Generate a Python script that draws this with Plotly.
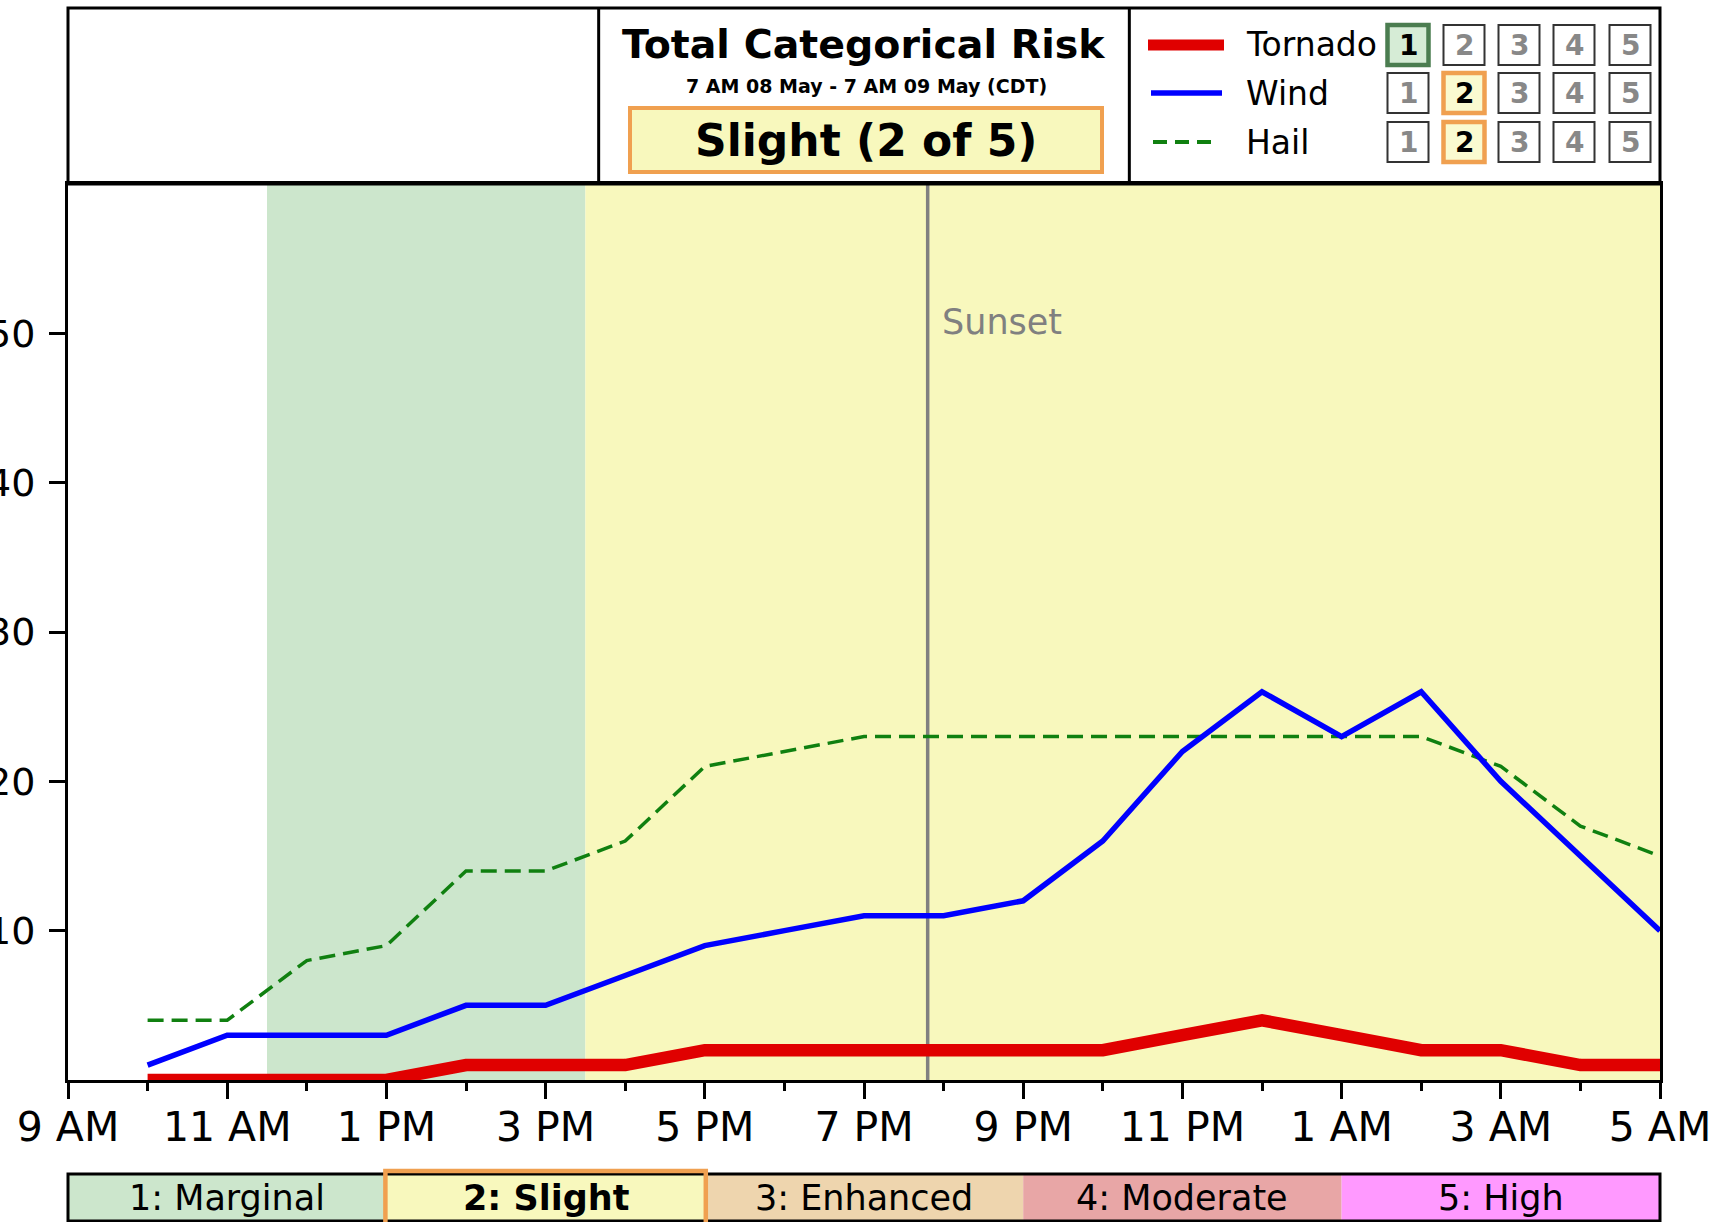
import plotly.graph_objects as go

# ---------------- data ----------------
times = [
    "2024-05-08 10:00", "2024-05-08 11:00", "2024-05-08 12:00", "2024-05-08 13:00",
    "2024-05-08 14:00", "2024-05-08 15:00", "2024-05-08 16:00", "2024-05-08 17:00",
    "2024-05-08 18:00", "2024-05-08 19:00", "2024-05-08 20:00", "2024-05-08 21:00",
    "2024-05-08 22:00", "2024-05-08 23:00", "2024-05-09 00:00", "2024-05-09 01:00",
    "2024-05-09 02:00", "2024-05-09 03:00", "2024-05-09 04:00", "2024-05-09 05:00",
]
tornado = [0, 0, 0, 0, 1, 1, 1, 2, 2, 2, 2, 2, 2, 3, 4, 3, 2, 2, 1, 1]
wind = [1, 3, 3, 3, 5, 5, 7, 9, 10, 11, 11, 12, 16, 22, 26, 23, 26, 20, 15, 10]
hail = [4, 4, 8, 9, 14, 14, 16, 21, 22, 23, 23, 23, 23, 23, 23, 23, 23, 21, 17, 15]

tick_times = [
    "2024-05-08 09:00", "2024-05-08 11:00", "2024-05-08 13:00", "2024-05-08 15:00",
    "2024-05-08 17:00", "2024-05-08 19:00", "2024-05-08 21:00", "2024-05-08 23:00",
    "2024-05-09 01:00", "2024-05-09 03:00", "2024-05-09 05:00",
]
tick_labels = ["9 AM", "11 AM", "1 PM", "3 PM", "5 PM", "7 PM", "9 PM", "11 PM",
               "1 AM", "3 AM", "5 AM"]
y_ticks = [10, 20, 30, 40, 50]

x_start, x_end = "2024-05-08 09:00", "2024-05-09 05:00"
marginal_span = ["2024-05-08 11:30", "2024-05-08 15:30"]
slight_span = ["2024-05-08 15:30", "2024-05-09 05:00"]
sunset_time = "2024-05-08 19:48"

categories = ["1: Marginal", "2: Slight", "3: Enhanced", "4: Moderate", "5: High"]
cat_colors = ["#cce6cc", "#f8f8bd", "#eed5ae", "#e8a6a6", "#ff99ff"]
active_category = 2

hazards = ["Tornado", "Wind", "Hail"]
hazard_level = [1, 2, 2]
hazard_colors = ["#e00000", "#0000ff", "#108010"]

# ---------------- layout geometry (pixels) ----------------
W, H = 1714, 1222
L, R, T, B = 68, 1660, 184, 1080
FONT = "DejaVu Sans"
ORANGE = "#f0a050"


def px(x):
    return (x - L) / (R - L)


def py(y):
    return (B - y) / (B - T)


fig = go.Figure()

fig.add_trace(go.Scatter(x=times, y=hail, mode="lines", name="Hail",
                         line=dict(color=hazard_colors[2], width=3.5, dash="16px,8px")))
fig.add_trace(go.Scatter(x=times, y=wind, mode="lines", name="Wind",
                         line=dict(color=hazard_colors[1], width=5.5)))
fig.add_trace(go.Scatter(x=times, y=tornado, mode="lines", name="Tornado",
                         line=dict(color=hazard_colors[0], width=12.5), cliponaxis=True))

shapes = []
annotations = []

# background risk shading
shapes.append(dict(type="rect", xref="x", yref="paper", x0=marginal_span[0], x1=marginal_span[1],
                   y0=0, y1=1, fillcolor=cat_colors[0], line=dict(width=0), layer="below"))
shapes.append(dict(type="rect", xref="x", yref="paper", x0=slight_span[0], x1=slight_span[1],
                   y0=0, y1=1, fillcolor=cat_colors[1], line=dict(width=0), layer="below"))
# sunset line
shapes.append(dict(type="line", xref="x", yref="paper", x0=sunset_time, x1=sunset_time,
                   y0=0, y1=1, line=dict(color="#808080", width=3.5), layer="below"))
annotations.append(dict(x=sunset_time, y=py(322), xref="x", yref="paper", text="Sunset",
                        showarrow=False, xanchor="left", yanchor="middle", xshift=12,
                        font=dict(family=FONT, size=35, color="#808080")))

# ---------------- header ----------------
third = (R - L) / 3
shapes.append(dict(type="rect", xref="paper", yref="paper", x0=px(L), x1=px(R),
                   y0=py(184), y1=py(8), line=dict(color="black", width=3)))
for k in (1, 2):
    xx = px(L + k * third)
    shapes.append(dict(type="line", xref="paper", yref="paper", x0=xx, x1=xx,
                       y0=py(184), y1=py(8), line=dict(color="black", width=3)))

mid = L + 1.5 * third
annotations.append(dict(x=px(mid), y=py(44), xref="paper", yref="paper",
                        text="<b>Total Categorical Risk</b>", showarrow=False,
                        xanchor="center", yanchor="middle",
                        font=dict(family=FONT, size=39.5, color="black")))
annotations.append(dict(x=px(mid + 2), y=py(86), xref="paper", yref="paper",
                        text="<b>7 AM 08 May - 7 AM 09 May (CDT)</b>", showarrow=False,
                        xanchor="center", yanchor="middle",
                        font=dict(family=FONT, size=19, color="black")))
shapes.append(dict(type="rect", xref="paper", yref="paper", x0=px(630), x1=px(1102),
                   y0=py(172), y1=py(108), fillcolor=cat_colors[1],
                   line=dict(color=ORANGE, width=4)))
annotations.append(dict(x=px(866), y=py(140), xref="paper", yref="paper",
                        text="<b>Slight (2 of 5)</b>", showarrow=False,
                        xanchor="center", yanchor="middle",
                        font=dict(family=FONT, size=44, color="black")))

# header legend
row_y = [45, 93, 142]
line_x = [(1148, 1224), (1151, 1222), (1153, 1219)]
line_w = [11, 5.5, 4]
line_dash = ["solid", "solid", "14px,8px"]
box_x = [1408, 1464, 1519, 1574, 1630]
bw, bh = 41, 40
for i, hz in enumerate(hazards):
    yy = row_y[i]
    shapes.append(dict(type="line", xref="paper", yref="paper",
                       x0=px(line_x[i][0]), x1=px(line_x[i][1]), y0=py(yy), y1=py(yy),
                       line=dict(color=hazard_colors[i], width=line_w[i], dash=line_dash[i])))
    annotations.append(dict(x=px(1244), y=py(yy), xref="paper", yref="paper", text=hz,
                            showarrow=False, xanchor="left", yanchor="middle",
                            font=dict(family=FONT, size=33, color="black")))
    for j, bx in enumerate(box_x):
        lvl = j + 1
        active = lvl == hazard_level[i]
        if active:
            fill = "#d6ecd6" if lvl == 1 else "#fafad0"
            edge = "#4b7d50" if lvl == 1 else ORANGE
            ew = 4.5
        else:
            fill = "white"
            edge = "#333333"
            ew = 2
        shapes.append(dict(type="rect", xref="paper", yref="paper",
                           x0=px(bx - bw / 2), x1=px(bx + bw / 2),
                           y0=py(yy + bh / 2), y1=py(yy - bh / 2),
                           fillcolor=fill, line=dict(color=edge, width=ew)))
        annotations.append(dict(x=px(bx), y=py(yy + 1), xref="paper", yref="paper",
                                text=f"<b>{lvl}</b>", showarrow=False,
                                xanchor="center", yanchor="middle",
                                font=dict(family=FONT, size=28,
                                          color="black" if active else "#888888")))

# ---------------- bottom category bar ----------------
seg = (R - L) / len(categories)
bar_top, bar_bot = 1174, 1221
for k, (cat, col) in enumerate(zip(categories, cat_colors)):
    x0 = L + k * seg
    x1 = x0 + seg
    shapes.append(dict(type="rect", xref="paper", yref="paper", x0=px(x0), x1=px(x1),
                       y0=py(bar_bot), y1=py(bar_top), fillcolor=col,
                       line=dict(width=0)))
    is_active = (k + 1) == active_category
    annotations.append(dict(x=px((x0 + x1) / 2), y=py(1198), xref="paper", yref="paper",
                            text=f"<b>{cat}</b>" if is_active else cat, showarrow=False,
                            xanchor="center", yanchor="middle",
                            font=dict(family=FONT, size=35, color="black")))
shapes.append(dict(type="rect", xref="paper", yref="paper", x0=px(L), x1=px(R),
                   y0=py(bar_bot), y1=py(bar_top), line=dict(color="black", width=3)))
ax0 = L + (active_category - 1) * seg
shapes.append(dict(type="rect", xref="paper", yref="paper", x0=px(ax0 - 1), x1=px(ax0 + seg + 1),
                   y0=py(bar_bot + 4), y1=py(bar_top - 3), line=dict(color=ORANGE, width=4.5)))

fig.update_layout(
    width=W, height=H,
    margin=dict(l=L, r=W - R, t=T, b=H - B, autoexpand=False),
    paper_bgcolor="white", plot_bgcolor="white",
    showlegend=False,
    shapes=shapes, annotations=annotations,
    font=dict(family=FONT, color="black"),
)
fig.update_xaxes(
    type="date", range=[x_start, x_end],
    tickmode="array", tickvals=tick_times, ticktext=tick_labels,
    ticks="outside", ticklen=16, tickwidth=2.5, tickcolor="black",
    tickfont=dict(family=FONT, size=41, color="black"),
    ticklabelstandoff=-7,
    minor=dict(ticks="outside", ticklen=8, tickwidth=2.5, tickcolor="black",
               tickmode="linear", tick0=x_start, dtick=3600000, showgrid=False),
    showline=True, linecolor="black", linewidth=3, mirror=True,
    showgrid=False, zeroline=False,
)
fig.update_yaxes(
    range=[0, 60], tickmode="array", tickvals=y_ticks,
    ticks="outside", ticklen=16, tickwidth=2.5, tickcolor="black",
    tickfont=dict(family=FONT, size=38, color="black"),
    ticklabelstandoff=6,
    showline=True, linecolor="black", linewidth=3, mirror=True,
    showgrid=False, zeroline=False,
)

fig.write_html("out.html", config={"displayModeBar": False},
               post_script="document.body.style.margin='0';document.body.style.padding='0';")
